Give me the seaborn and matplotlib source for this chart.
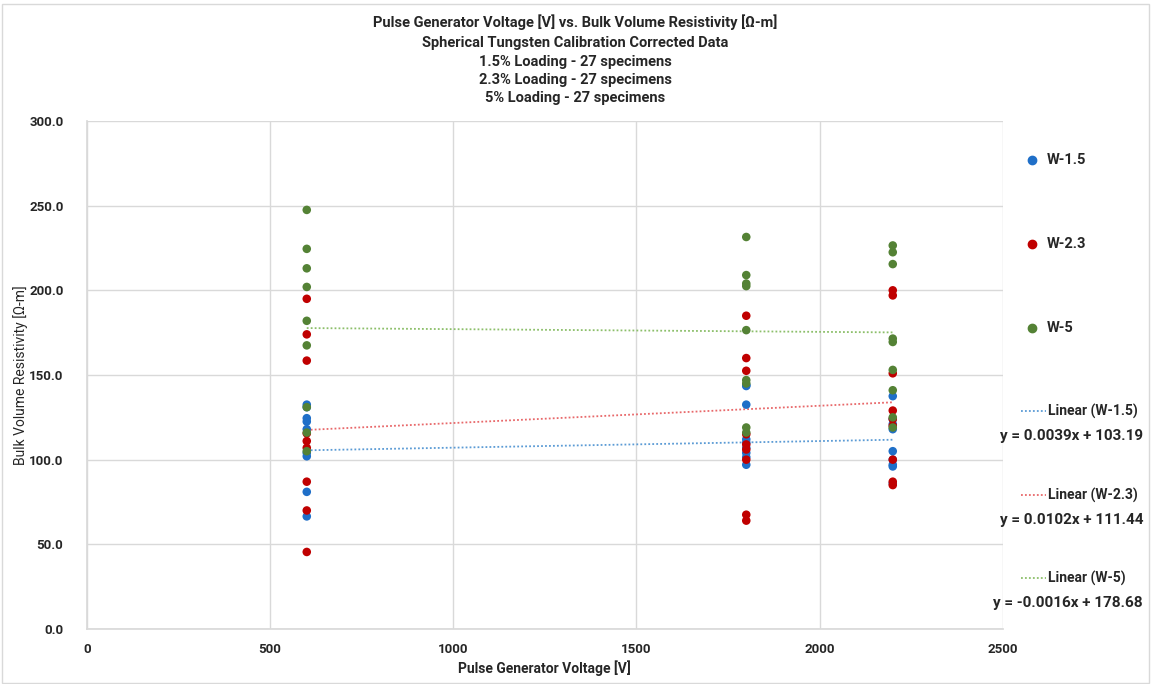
import numpy as np
import pandas as pd
import matplotlib
matplotlib.use("Agg")
import matplotlib.pyplot as plt
from matplotlib.lines import Line2D
from matplotlib.patches import Rectangle
import seaborn as sns

# Pulse generator voltages tested [V]
voltages = [600, 1800, 2200]

# Bulk volume resistivity [Ω-m], nine specimens per voltage
w15_600 = [132.5, 131.0, 124.5, 122.5, 118.0, 104.0, 102.0, 81.0, 66.5]
w15_1800 = [144.0, 143.5, 132.5, 112.0, 110.0, 107.0, 104.0, 101.5, 97.0]
w15_2200 = [137.5, 124.0, 121.0, 118.0, 105.0, 100.0, 97.0, 96.0, 86.0]

w23_600 = [195.0, 174.0, 158.5, 115.5, 111.0, 107.0, 87.0, 70.0, 45.5]
w23_1800 = [185.0, 160.0, 152.5, 115.0, 109.0, 106.0, 100.0, 67.5, 64.0]
w23_2200 = [200.0, 197.0, 151.0, 129.0, 124.0, 120.0, 100.0, 87.0, 85.0]

w5_600 = [247.5, 224.5, 213.0, 202.0, 182.0, 167.5, 131.0, 116.0, 105.0]
w5_1800 = [231.5, 209.0, 204.0, 202.5, 176.5, 147.0, 145.0, 119.0, 116.0]
w5_2200 = [226.5, 222.5, 215.5, 171.5, 169.5, 153.0, 141.0, 125.0, 119.0]

series_names = ["W-1.5", "W-2.3", "W-5"]

# Linear trend coefficients (slope, intercept)
trend_slopes = [0.0039, 0.0102, -0.0016]
trend_intercepts = [103.19, 111.44, 178.68]
trend_labels = ["y = 0.0039x + 103.19", "y = 0.0102x + 111.44", "y = -0.0016x + 178.68"]

title_lines = [
    "Pulse Generator Voltage [V] vs. Bulk Volume Resistivity [Ω-m]",
    "Spherical Tungsten Calibration Corrected Data",
    "1.5% Loading - 27 specimens",
    "2.3% Loading - 27 specimens",
    "5% Loading - 27 specimens",
]

point_colors = ["#1F6FC8", "#C00000", "#548235"]
trend_colors = ["#5B9BD5", "#E8686A", "#8CBF6A"]
text_color = "#262626"

rows = []
for name, groups in zip(series_names,
                        [(w15_600, w15_1800, w15_2200),
                         (w23_600, w23_1800, w23_2200),
                         (w5_600, w5_1800, w5_2200)]):
    for v, vals in zip(voltages, groups):
        for r in vals:
            rows.append({"Voltage": v, "Resistivity": r, "Series": name})
df = pd.DataFrame(rows)

sns.set_theme(style="white")
plt.rcParams["font.family"] = ["Roboto", "DejaVu Sans"]

fig = plt.figure(figsize=(11.51, 6.84), dpi=100)
ax = fig.add_axes([0.0756, 0.0804, 0.7955, 0.7427])

sns.scatterplot(data=df, x="Voltage", y="Resistivity", hue="Series",
                hue_order=series_names, palette=point_colors,
                s=38, linewidth=0, ax=ax, legend=False, zorder=3)

# Dotted linear trend lines over the tested voltage range
xs = np.array([min(voltages), max(voltages)], dtype=float)
for m, b, c in zip(trend_slopes, trend_intercepts, trend_colors):
    ax.plot(xs, m * xs + b, linestyle=(0, (1, 1.2)), color=c, linewidth=1.3, zorder=2)

ax.set_xlim(0, 2500)
ax.set_ylim(0, 300)
ax.set_xticks(np.arange(0, 2501, 500))
ax.set_yticks(np.arange(0, 301, 50))
ax.set_yticklabels([f"{v:.1f}" for v in np.arange(0, 301, 50)])
ax.grid(True, color="#D9D9D9", linewidth=1)
ax.set_axisbelow(True)
for side in ["top", "right"]:
    ax.spines[side].set_visible(False)
for side in ["left", "bottom"]:
    ax.spines[side].set_color("#D9D9D9")
ax.tick_params(axis="both", length=0, labelsize=9.5, colors=text_color)
ax.tick_params(axis="x", pad=10)
ax.tick_params(axis="y", pad=17)
for lab in ax.get_xticklabels() + ax.get_yticklabels():
    lab.set_fontweight("bold")

ax.set_xlabel("Pulse Generator Voltage [V]", fontsize=10, fontweight="bold",
              color=text_color, labelpad=3)
ax.set_ylabel("Bulk Volume Resistivity [Ω-m]", fontsize=10, color=text_color)
ax.yaxis.set_label_coords(-0.064, 0.5)

# Multi-line title
title_y = [22, 43, 62, 80, 98]
for text, py in zip(title_lines, title_y):
    fig.text(0.5, 1 - py / 684, text, ha="center", va="center",
             fontsize=10.5, fontweight="bold", color=text_color)

# Legend entries for the scatter series
W, H = 1151, 684
for name, c, py in zip(series_names, point_colors, [160, 244, 328]):
    fig.add_artist(Line2D([1032 / W], [1 - py / H], marker="o", markersize=6,
                          color=c, linestyle="none", transform=fig.transFigure))
    fig.text(1047 / W, 1 - py / H, name, ha="left", va="center",
             fontsize=10.5, fontweight="bold", color=text_color)

# Legend entries for the trend lines with their equations
for name, c, eq, py in zip(series_names, trend_colors, trend_labels, [411, 495, 578]):
    fig.add_artist(Line2D([1021 / W, 1046 / W], [1 - py / H, 1 - py / H],
                          linestyle=(0, (1, 1.2)), color=c, linewidth=1.3,
                          transform=fig.transFigure))
    fig.text(1048 / W, 1 - py / H, f"Linear ({name})", ha="left", va="center",
             fontsize=10, fontweight="bold", color=text_color)
    fig.text(1143 / W, 1 - (py + 25) / H, eq, ha="right", va="center",
             fontsize=11, fontweight="bold", color=text_color)

# Light frame around the chart area
fig.add_artist(Rectangle((0.002, 0.002), 0.996, 0.992, transform=fig.transFigure,
                         fill=False, edgecolor="#D9D9D9", linewidth=1))

fig.savefig("out.png", dpi=100)
